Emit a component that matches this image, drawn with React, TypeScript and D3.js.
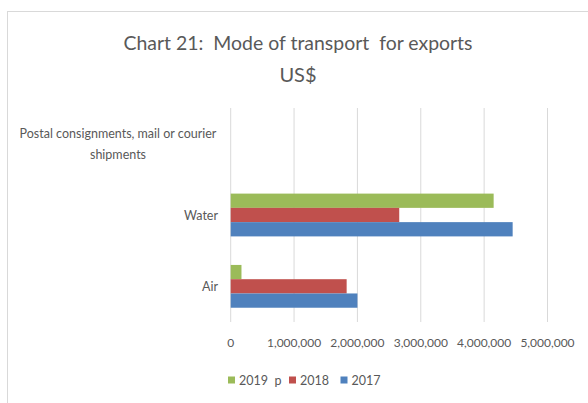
import React from "react";
import * as d3 from "d3";

const categories = ["Postal consignments, mail or courier shipments", "Water", "Air"];
const categoryLines = [["Postal consignments, mail or courier", "shipments"], ["Water"], ["Air"]];
const seriesNames = ["2019  p", "2018", "2017"];
const seriesColors = ["#9BBB59", "#C0504D", "#4F81BD"];
const values2019p = [0, 4150000, 170000];
const values2018 = [0, 2660000, 1830000];
const values2017 = [0, 4450000, 2000000];
const xTicks = [0, 1000000, 2000000, 3000000, 4000000, 5000000];

const W = 588;
const H = 403;
const FONT = "Lato, 'Open Sans', sans-serif";
const TEXT = "#595959";

export default function App() {
  const series = [values2019p, values2018, values2017];
  const x = d3.scaleLinear().domain([0, 5000000]).range([230.7, 547.5]);
  const y = d3.scaleBand().domain(categories).range([108, 322]).paddingInner(0.4).paddingOuter(0.2);
  const inner = d3.scaleBand().domain(seriesNames).range([0, y.bandwidth()]);
  const fmt = d3.format(",");

  return (
    <svg width={W} height={H} style={{ position: "absolute", left: 0, top: 0, background: "#fff" }}>
      <rect x={7.5} y={11.5} width={W} height={H} fill="#fff" stroke="#d9d9d9" strokeWidth={1} />
      <text x={298} y={50} textAnchor="middle" fontFamily={FONT} fontSize={20} fill={TEXT} xmlSpace="preserve"
        textLength={349} lengthAdjust="spacingAndGlyphs">
        Chart 21:  Mode of transport  for exports
      </text>
      <text x={298} y={82} textAnchor="middle" fontFamily={FONT} fontSize={20} fill={TEXT}>
        US$
      </text>
      {xTicks.map((t) => (
        <line key={"g" + t} x1={x(t)} x2={x(t)} y1={108} y2={322} stroke="#d9d9d9" strokeWidth={1} />
      ))}
      {xTicks.map((t) => (
        <text key={"t" + t} x={x(t)} y={347} textAnchor="middle" fontFamily={FONT} fontSize={12} fill={TEXT}>
          {fmt(t)}
        </text>
      ))}
      {categories.map((c, ci) =>
        series.map((vals, si) => (
          <rect
            key={c + si}
            x={x(0)}
            y={(y(c) as number) + (inner(seriesNames[si]) as number)}
            width={x(vals[ci]) - x(0)}
            height={inner.bandwidth()}
            fill={seriesColors[si]}
          />
        ))
      )}
      {categories.map((c, ci) => {
        const lines = categoryLines[ci];
        const cy = (y(c) as number) + y.bandwidth() / 2;
        const lh = 21;
        return lines.length > 1 ? (
          lines.map((l, li) => (
            <text key={c + li} x={118} y={cy + (li - (lines.length - 1) / 2) * lh + 4.5} textAnchor="middle"
              fontFamily={FONT} fontSize={12.5} fill={TEXT}>{l}</text>
          ))
        ) : (
          <text key={c} x={218} y={cy + 4.5} textAnchor="end" fontFamily={FONT} fontSize={12.5} fill={TEXT}>{lines[0]}</text>
        );
      })}
      {[228, 289, 340.5].map((lx, i) => (
        <g key={"l" + i}>
          <rect x={lx} y={376.5} width={7} height={7} fill={seriesColors[i]} />
          <text x={lx + 11} y={384.5} fontFamily={FONT} fontSize={12.5} fill={TEXT} xmlSpace="preserve">{seriesNames[i]}</text>
        </g>
      ))}
    </svg>
  );
}
